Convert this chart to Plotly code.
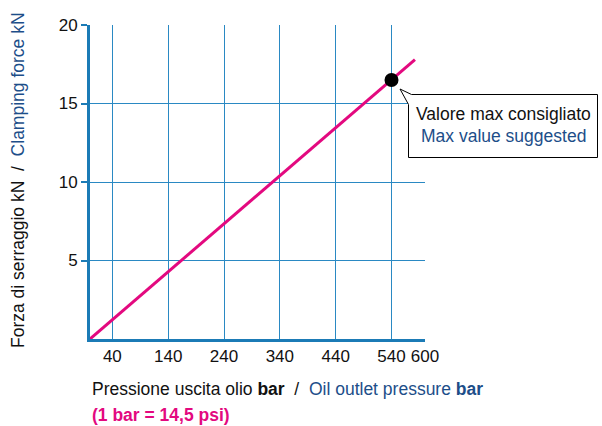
import plotly.graph_objects as go

# Clamping force vs oil outlet pressure
pressure_bar = [0, 540, 582]
force_kN = [0, 16.5, 17.8]

max_pressure = [540]
max_force = [16.5]

x_ticks = [40, 140, 240, 340, 440, 540, 600]
x_tick_labels = ["40", "140", "240", "340", "440", "540", "600"]
y_ticks = [5, 10, 15, 20]
y_tick_labels = ["5", "10", "15", "20"]

FONT = "Liberation Sans, Arial, sans-serif"
BLUE_GRID = "#2a89c3"
BLUE_AXIS = "#1b7bb6"
NAVY = "#1d4e89"
MAGENTA = "#e3097f"
INK = "#111111"

W, H = 602, 426
L, R, T, B = 90, 425, 25, 339  # plot area in pixels


def px(x):
    return (x - L) / (R - L)


def py(y):
    return (B - y) / (B - T)


fig = go.Figure()
fig.add_trace(go.Scatter(
    x=pressure_bar, y=force_kN, mode="lines",
    line=dict(color=MAGENTA, width=3), hoverinfo="skip", showlegend=False,
))
fig.add_trace(go.Scatter(
    x=max_pressure, y=max_force, mode="markers",
    marker=dict(color="black", size=14), showlegend=False,
))

# callout box with pointer towards the max point (half-pixel edges for a crisp outline)
bx0, bx1, by0, by1 = 408.5, 597.5, 94.5, 157.5
tip = (400, 89)
path = (f"M {px(tip[0])},{py(tip[1])} "
        f"L {px(bx0)},{py(by0 + 10)} "
        f"L {px(bx0)},{py(by1)} "
        f"L {px(bx1)},{py(by1)} "
        f"L {px(bx1)},{py(by0)} "
        f"L {px(bx0 + 3)},{py(by0)} Z")
fig.add_shape(type="path", path=path, xref="paper", yref="paper",
              line=dict(color="black", width=1), fillcolor="white", layer="above")

cx = (bx0 + bx1) / 2
fig.add_annotation(x=px(cx), y=py(114), xref="paper", yref="paper",
                   text="Valore max consigliato", showarrow=False,
                   font=dict(family=FONT, size=17.5, color=INK),
                   xanchor="center", yanchor="middle")
fig.add_annotation(x=px(cx), y=py(136), xref="paper", yref="paper",
                   text="Max value suggested", showarrow=False,
                   font=dict(family=FONT, size=17.5, color=NAVY),
                   xanchor="center", yanchor="middle")

# axis titles
fig.add_annotation(x=px(90), y=py(389), xref="paper", yref="paper",
                   text=("Pressione uscita olio <b>bar</b>  /  "
                         f"<span style='color:{NAVY}'>Oil outlet pressure <b>bar</b></span>"),
                   showarrow=False, xanchor="left", yanchor="middle",
                   font=dict(family=FONT, size=17.5, color=INK))
fig.add_annotation(x=px(90), y=py(415), xref="paper", yref="paper",
                   text="<b>(1 bar = 14,5 psi)</b>",
                   showarrow=False, xanchor="left", yanchor="middle",
                   font=dict(family=FONT, size=17.5, color=MAGENTA))
fig.add_annotation(x=px(18), y=py(180), xref="paper", yref="paper",
                   text=("Forza di serraggio kN  /  "
                         f"<span style='color:{NAVY}'>Clamping force kN</span>"),
                   showarrow=False, textangle=-90, xanchor="center", yanchor="middle",
                   font=dict(family=FONT, size=17.5, color=INK))

fig.update_layout(
    width=W, height=H,
    margin=dict(l=L, r=W - R, t=T, b=H - B, pad=0),
    paper_bgcolor="white", plot_bgcolor="white",
    font=dict(family=FONT, size=17, color=INK),
    showlegend=False,
    xaxis=dict(range=[0, 600], tickvals=x_ticks, ticktext=x_tick_labels,
               tickangle=0,
               showgrid=True, gridcolor=BLUE_GRID, gridwidth=1,
               showline=True, linecolor=BLUE_AXIS, linewidth=3,
               ticks="", zeroline=False, fixedrange=True,
               tickfont=dict(family=FONT, size=17, color=INK)),
    yaxis=dict(range=[0, 20], tickvals=y_ticks, ticktext=y_tick_labels,
               showgrid=True, gridcolor=BLUE_GRID, gridwidth=1,
               showline=True, linecolor=BLUE_AXIS, linewidth=3,
               ticks="outside", ticklen=6, tickwidth=2, tickcolor=BLUE_AXIS,
               zeroline=False, fixedrange=True,
               tickfont=dict(family=FONT, size=17, color=INK)),
)

fig.write_html("out.html")
